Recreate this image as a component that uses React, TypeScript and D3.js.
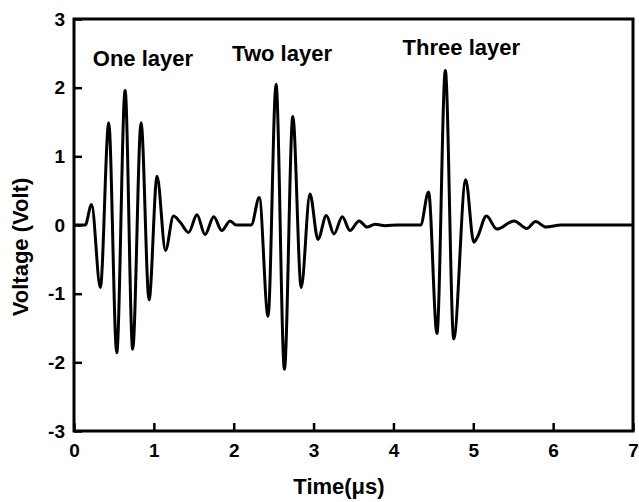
import {useEffect, useRef} from 'react';
import * as d3 from 'd3';

// received trace (peaks, troughs and flat stretches)
const timeUs = [0, 0.14, 0.22, 0.33, 0.435, 0.535, 0.64, 0.735, 0.84, 0.94, 1.04, 1.146, 1.245, 1.33, 1.435, 1.54, 1.64, 1.75, 1.85, 1.955, 2.03,
    2.22, 2.32, 2.43, 2.53, 2.635, 2.74, 2.845, 2.955, 3.055, 3.16, 3.255, 3.36, 3.455, 3.57, 3.67, 3.77, 3.9, 4.05,
    4.34, 4.44, 4.545, 4.65, 4.755, 4.905, 5.006, 5.05, 5.165, 5.295, 5.51, 5.67, 5.78, 5.91, 6.1, 6.5, 7.0];
const voltage = [0, 0, 0.30, -0.91, 1.49, -1.86, 1.96, -1.81, 1.49, -1.09, 0.71, -0.37, 0.13, 0.04, -0.11, 0.15, -0.14, 0.12, -0.08, 0.06, 0,
    0, 0.40, -1.33, 2.05, -2.10, 1.58, -0.91, 0.45, -0.21, 0.14, -0.13, 0.12, -0.08, 0.06, -0.03, 0.01, -0.01, 0,
    0, 0.48, -1.58, 2.25, -1.66, 0.66, -0.25, -0.18, 0.13, -0.06, 0.06, -0.05, 0.05, -0.03, 0, 0, 0];

const layerLabels = ['One layer', 'Two layer', 'Three layer'];
const labelTime = [0.235, 1.98, 4.115];
const labelVolt = [2.32, 2.39, 2.47];

const xTicks = [0, 1, 2, 3, 4, 5, 6, 7];
const yTicks = [-3, -2, -1, 0, 1, 2, 3];

const App = () => {
    const ref = useRef(null);

    useEffect(() => {
        const width = 639, height = 502;
        const margin = {top: 19, right: 6, bottom: 71, left: 74};
        const font = '"Liberation Sans", Arial, sans-serif';

        d3.select(ref.current).selectAll('*').remove();
        const svg = d3.select(ref.current)
            .append('svg')
            .attr('width', width)
            .attr('height', height)
            .style('position', 'absolute')
            .style('left', 0)
            .style('top', 0)
            .style('background', '#fff');

        const x = d3.scaleLinear().domain([0, 7]).range([margin.left, width - margin.right]);
        const y = d3.scaleLinear().domain([-3, 3]).range([height - margin.bottom, margin.top]);

        const xAxis = d3.axisBottom(x).tickValues(xTicks).tickSize(-8).tickPadding(13).tickFormat(d => String(d));
        const yAxis = d3.axisLeft(y).tickValues(yTicks).tickSize(-8).tickPadding(9).tickFormat(d => String(d));

        const gx = svg.append('g')
            .attr('transform', `translate(0,${height - margin.bottom})`)
            .call(xAxis);
        const gy = svg.append('g')
            .attr('transform', `translate(${margin.left},0)`)
            .call(yAxis);

        [gx, gy].forEach(g => {
            g.select('.domain').remove();
            g.selectAll('line').attr('stroke', '#000').attr('stroke-width', 2.5);
            g.selectAll('text')
                .attr('fill', '#000')
                .style('font-family', font)
                .style('font-weight', 'bold')
                .style('font-size', '19px');
        });

        // frame
        svg.append('rect')
            .attr('x', x(0))
            .attr('y', y(3))
            .attr('width', x(7) - x(0))
            .attr('height', y(-3) - y(3))
            .attr('fill', 'none')
            .attr('stroke', '#000')
            .attr('stroke-width', 3);

        const line = d3.line<number>()
            .x(i => x(timeUs[i]))
            .y(i => y(voltage[i]))
            .curve(d3.curveMonotoneX);

        svg.append('path')
            .attr('d', line(d3.range(timeUs.length)))
            .attr('fill', 'none')
            .attr('stroke', '#000')
            .attr('stroke-width', 3)
            .attr('stroke-linejoin', 'round');

        layerLabels.forEach((label, i) => {
            svg.append('text')
                .attr('x', x(labelTime[i]))
                .attr('y', y(labelVolt[i]))
                .attr('fill', '#000')
                .style('font-family', font)
                .style('font-weight', 'bold')
                .style('font-size', '22px')
                .text(label);
        });

        svg.append('text')
            .attr('x', 339)
            .attr('y', 494)
            .attr('text-anchor', 'middle')
            .style('font-family', font)
            .style('font-weight', 'bold')
            .style('font-size', '22px')
            .text('Time(\u03bcs)');

        svg.append('text')
            .attr('transform', `translate(28,247) rotate(-90)`)
            .attr('text-anchor', 'middle')
            .style('font-family', font)
            .style('font-weight', 'bold')
            .style('font-size', '22px')
            .text('Voltage (Volt)');
    }, []);

    return <div ref={ref}></div>;
};

export default App;
